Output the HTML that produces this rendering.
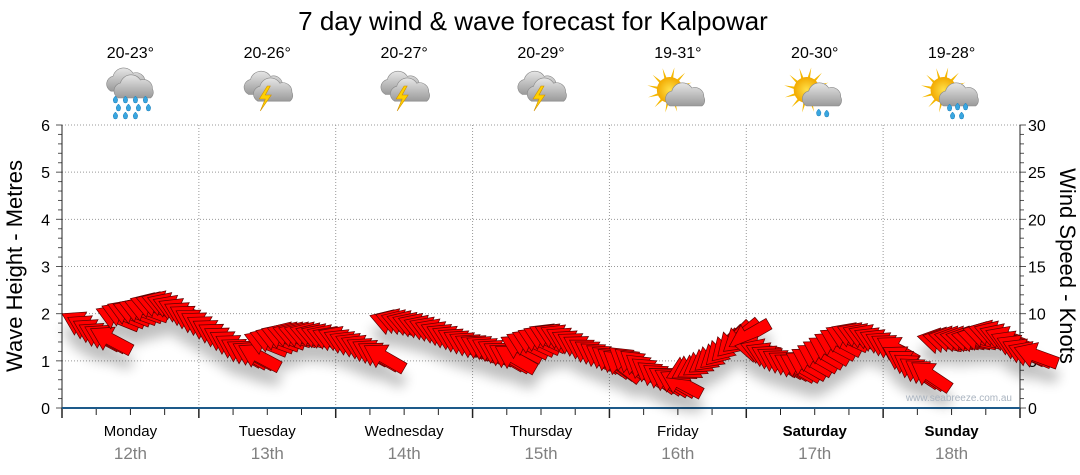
<!DOCTYPE html>
<html><head><meta charset="utf-8"><style>
html,body{margin:0;padding:0;background:#fff;width:1080px;height:475px;overflow:hidden}
svg{display:block;font-family:"Liberation Sans","DejaVu Sans",sans-serif}
</style></head><body>
<svg id="chart" width="1080" height="475" viewBox="0 0 1080 475">
<defs>
<filter id="shadow" x="-20%" y="-50%" width="140%" height="250%">
<feGaussianBlur in="SourceAlpha" stdDeviation="6"/>
<feOffset dx="0" dy="14" result="b"/>
<feComponentTransfer><feFuncA type="linear" slope="0.25"/></feComponentTransfer>
<feMerge><feMergeNode/><feMergeNode in="SourceGraphic"/></feMerge>
</filter>
<radialGradient id="sun" cx="50%" cy="50%" r="50%"><stop offset="0" stop-color="#ffe14a"/><stop offset="1" stop-color="#f2a900"/></radialGradient>
<linearGradient id="cloud" x1="0" y1="0" x2="0" y2="1"><stop offset="0" stop-color="#e6e6e6"/><stop offset="1" stop-color="#9a9a9a"/></linearGradient>
</defs>
<text x="533" y="30" font-size="26" text-anchor="middle" fill="#000">7 day wind &amp; wave forecast for Kalpowar</text>
<g id="grid"></g>
<g id="axes"></g>
<g id="header"></g>
<g id="arrows" filter="url(#shadow)"></g>
<text x="1012" y="401" font-size="10" text-anchor="end" fill="#aab4c0">www.seabreeze.com.au</text>
<text transform="translate(22,266) rotate(-90)" font-size="22" text-anchor="middle">Wave Height - Metres</text>
<text transform="translate(1060,266) rotate(90)" font-size="22" text-anchor="middle">Wind Speed - Knots</text>
</svg>
<script>
const days = ["Monday","Tuesday","Wednesday","Thursday","Friday","Saturday","Sunday"];
const dates = ["12th","13th","14th","15th","16th","17th","18th"];
const temps = ["20-23°","20-26°","20-27°","20-29°","19-31°","20-30°","19-28°"];
const icons = ["rain","storm","storm","storm","sun-cloud","sun-shower","sun-rain"];
const waveTicks = [0,1,2,3,4,5,6];
const windTicks = [0,5,10,15,20,25,30];
const windSpeed = [
 10,9.6,9.2,8.8,8.6,8.4,10.5,10.8,11,11,11.2,11.3,11.6,11.7,11.8,11.7,11.5,11.3,11,10.7,10.3,10,9.6,9.2,
 8.8,8.4,8,7.6,7.2,7,6.8,6.6,7.8,8,8.2,8.4,8.5,8.5,8.5,8.5,8.5,8.4,8.4,8.3,8.2,8.2,8,7.8,
 7.6,7.4,7.2,7,6.8,6.6,9.8,9.9,9.8,9.7,9.6,9.5,9.3,9.2,9,8.8,8.6,8.4,8.2,8,7.8,7.6,7.5,7.4,
 7.2,7,6.8,6.6,6.5,7.5,7.8,8,8.2,8.4,8.6,8.6,8.5,8.3,8,7.8,7.5,7.2,7,6.8,6.6,6.4,6.2,6,
 6.4,6.2,6,5.6,5.2,4.8,4.5,4.2,4,3.8,3.2,3.2,3.3,3.5,3.8,4,4.3,4.6,5,5.5,6,6.5,6.6,6.8,
 6.6,6.4,6.2,6,5.8,5.6,5.6,5.8,6.2,6.6,7,7.4,7.8,8.2,8.5,8.6,8.6,8.5,8.4,8.2,8,7.8,7.6,7.4,
 6.4,6,5.6,5.2,5,4.8,7.6,7.7,7.8,7.8,7.8,7.8,7.8,8,8.4,8.6,8.6,8.4,8.2,7.8,7.4,7,6.6,6.4];
const windDir = [
 28,28,28,28,28,28,22,22,22,20,20,20,18,18,18,20,22,25,28,30,30,30,30,30,
 30,30,30,30,30,30,28,28,22,20,20,20,18,18,18,18,18,18,20,20,22,22,25,25,
 25,25,28,28,30,30,18,18,18,18,20,20,20,22,22,24,26,26,28,28,28,28,28,28,
 28,28,30,30,30,28,26,25,25,25,25,25,25,28,28,30,30,32,32,34,34,36,36,38,
 38,38,38,38,36,36,34,32,30,28,-25,-30,-30,-35,-35,-40,-40,-45,-45,-45,-40,-30,10,20,
 25,28,30,30,30,30,30,30,30,30,30,30,28,28,25,22,22,22,22,25,25,28,30,30,
 30,32,34,34,34,34,12,12,12,12,12,12,12,14,15,16,18,20,22,24,25,25,22,20];
const NS="http://www.w3.org/2000/svg";
const X0=62,X1=1020,Y0=408,Y1=125;
const dayW=(X1-X0)/7;
const xT=h=>X0+h/168*(X1-X0);
const yW=m=>Y0-m/6*(Y0-Y1);
const yK=k=>Y0-k/30*(Y0-Y1);
function mk(tag,attrs,parent){const e=document.createElementNS(NS,tag);for(const k in attrs)e.setAttribute(k,attrs[k]);parent.appendChild(e);return e;}
const grid=document.getElementById('grid'),axes=document.getElementById('axes'),header=document.getElementById('header'),arrows=document.getElementById('arrows');
waveTicks.forEach(m=>{
 if(m>0){const l=mk('line',{x1:X0,x2:X1,y1:yW(m),y2:yW(m),stroke:'#999','stroke-dasharray':'1,2'},grid);
 
 }
 const t=mk('text',{x:50,y:yW(m)+6,'font-size':16,'text-anchor':'end'},axes);t.textContent=m;
 
 
});
windTicks.forEach(k=>{
 const t=mk('text',{x:1028,y:yK(k)+6,'font-size':16},axes);t.textContent=k;
 
 
});
for(let i=0;i<=30;i++){const y=Y0-i*(Y0-Y1)/30;
 mk('line',{x1:i%5==0?56:58,x2:X0,y1:y,y2:y,stroke:'#555'},axes);
 mk('line',{x1:X1,x2:i%5==0?1026:1024,y1:y,y2:y,stroke:'#555'},axes);}
mk('line',{x1:X0,x2:X0,y1:Y1,y2:Y0,stroke:'#222'},axes);
mk('line',{x1:X1,x2:X1,y1:Y1,y2:Y0,stroke:'#222'},axes);
for(let h=0;h<=168;h+=6){const x=xT(h);mk('line',{x1:x,x2:x,y1:Y0,y2:Y0+(h%24==0?10:7),stroke:'#222','stroke-width':h%24==0?1.5:1},axes);
 if(h%24==0&&h>0&&h<168)mk('line',{x1:x,x2:x,y1:Y1,y2:Y0,stroke:'#999','stroke-dasharray':'1,2'},grid);}
mk('line',{x1:X0,x2:X1,y1:Y0,y2:Y0,stroke:'#1d5a8a','stroke-width':2},axes);
function drop(g,x,y){mk('path',{d:`M${x} ${y-3}q3 3 2 5a2 2 0 0 1-4 0q-1-2 2-5z`,fill:'#39a6e0',stroke:'#1f7fb8','stroke-width':0.5},g);}
function cloud(g,x,y,s){mk('path',{d:`M${x-16*s} ${y+8*s}a8 8 0 0 1 2-15a11 11 0 0 1 20-3a9 9 0 0 1 12 9a7 7 0 0 1-2 9z`,fill:'url(#cloud)',stroke:'#888','stroke-width':0.6},g);}
function sun(g,x,y){for(let a=0;a<360;a+=30){const r=a*Math.PI/180;mk('path',{d:`M${x+Math.cos(r)*10} ${y+Math.sin(r)*10}L${x+Math.cos(r+0.2)*23} ${y+Math.sin(r+0.2)*23}L${x+Math.cos(r+0.3)*10} ${y+Math.sin(r+0.3)*10}z`,fill:'#f5b800'},g);}
 mk('circle',{cx:x,cy:y,r:13,fill:'url(#sun)'},g);}
function bolt(g,x,y){mk('path',{d:`M${x+4} ${y}l-8 13h6l-5 12l11-16h-6l5-9z`,fill:'#ffd000',stroke:'#d09000','stroke-width':0.6},g);}
days.forEach((d,i)=>{
 const cx=X0+dayW*(i+0.5);
 const t=mk('text',{x:cx,y:58,'font-size':16,'text-anchor':'middle'},header);t.textContent=temps[i];
 
 
 const g=mk('g',{},header);
 
 
 const ic=icons[i];
 if(ic=='rain'){cloud(g,cx-5,84,0.9);cloud(g,cx+4,90,1);for(let r=0;r<3;r++)for(let c=0;c<4;c++)if(!(r==2&&c==3))drop(g,cx-15+c*10+(r%2)*3,99+r*8);}
 else if(ic=='storm'){cloud(g,cx-6,88,0.8);cloud(g,cx+5,94,0.9);bolt(g,cx-4,86);}
 else{sun(g,cx-8,90);cloud(g,cx+8,98,1);
  if(ic=='sun-shower'){drop(g,cx+4,112);drop(g,cx+12,113);}
  if(ic=='sun-rain'){drop(g,cx-2,107);drop(g,cx+6,106);drop(g,cx+14,106);drop(g,cx+1,115);drop(g,cx+10,115);}}
 const bold=(i>=5);
 const dn=mk('text',{x:cx,y:436,'font-size':15,'text-anchor':'middle','font-weight':bold?'bold':'normal'},axes);dn.textContent=d;
 
 
 const dt=mk('text',{x:cx,y:459,'font-size':17,'text-anchor':'middle',fill:'#808080'},axes);dt.textContent=dates[i];
 
 
});
windSpeed.forEach((k,i)=>{
 const x=xT(i),y=yK(k);
 const p=mk('path',{d:'M0 0L21 -13L21 -6L46 -6L46 6L21 6L21 13Z',fill:'#ff0000',stroke:'#5a0000','stroke-width':0.7,transform:`translate(${x},${y}) rotate(${windDir[i]})`},arrows);
 
 
});
</script>
</body></html>
